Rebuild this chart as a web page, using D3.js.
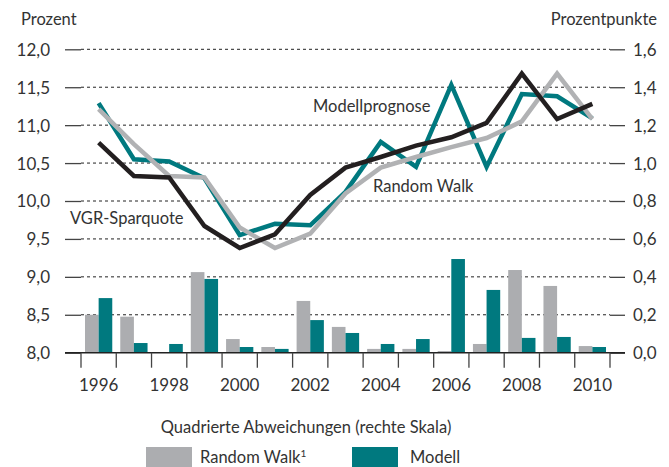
<!DOCTYPE html>
<html>
<head>
<meta charset="utf-8">
<script src="https://cdn.jsdelivr.net/npm/d3@7"></script>
<style>
  body { margin: 0; background: #fff; }
  svg text { font-family: Lato, "Open Sans", sans-serif; fill: #333; }
</style>
</head>
<body>
<div class="content-container"></div>
<script>
// data
const years = [1996, 1997, 1998, 1999, 2000, 2001, 2002, 2003, 2004, 2005, 2006, 2007, 2008, 2009, 2010];
const sparquote = [10.77, 10.33, 10.31, 9.67, 9.38, 9.56, 10.08, 10.44, 10.58, 10.73, 10.84, 11.03, 11.68, 11.08, 11.28];
const modellprognose = [11.29, 10.55, 10.52, 10.30, 9.55, 9.70, 9.68, 10.12, 10.78, 10.45, 11.53, 10.45, 11.41, 11.38, 11.09];
const randomWalk = [11.21, 10.75, 10.33, 10.31, 9.65, 9.38, 9.57, 10.10, 10.44, 10.58, 10.71, 10.83, 11.05, 11.68, 11.08];
const sqRandomWalk = [0.20, 0.19, 0.003, 0.425, 0.072, 0.030, 0.273, 0.136, 0.020, 0.020, 0.009, 0.046, 0.436, 0.352, 0.035];
const sqModell = [0.288, 0.051, 0.046, 0.389, 0.030, 0.020, 0.172, 0.104, 0.046, 0.072, 0.494, 0.331, 0.078, 0.083, 0.030];
const leftTicks = [8.0, 8.5, 9.0, 9.5, 10.0, 10.5, 11.0, 11.5, 12.0];
const rightTicks = [0.0, 0.2, 0.4, 0.6, 0.8, 1.0, 1.2, 1.4, 1.6];
const yearLabels = [1996, 1998, 2000, 2002, 2004, 2006, 2008, 2010];

const width = 669;
const height = 467;
const plotLeft = 81, plotRight = 610, plotTop = 49.3, plotBottom = 352.7;
const teal = "#00797f";
const grey = "#acadb0";
const black = "#231f20";
const comma = (d) => d.toFixed(1).replace(".", ",");

//SCALES
const xScale = d3.scaleBand().domain(years).range([plotLeft, plotRight]);
const bw = xScale.bandwidth();
const xInner = d3.scaleBand().domain(["rw", "modell"]).range([4, bw - 4]);
const yLeft = d3.scaleLinear().domain([8, 12]).range([plotBottom, plotTop]);
const yRight = d3.scaleLinear().domain([0, 1.6]).range([plotBottom, plotTop]);

const chart = d3.select(".content-container")
  .append("svg")
  .attr("width", width)
  .attr("height", height);

//GRID (dashed, except the base line)
chart.selectAll("line.grid")
  .data(leftTicks.slice(1))
  .enter()
  .append("line")
  .attr("class", "grid")
  .attr("x1", plotLeft).attr("x2", plotRight)
  .attr("y1", (d) => yLeft(d)).attr("y2", (d) => yLeft(d))
  .attr("stroke", "#222")
  .attr("stroke-width", 1)
  .attr("stroke-dasharray", "3,3");

//AXES
const yAxisLeft = d3.axisLeft(yLeft).tickValues(leftTicks).tickFormat(comma).tickSize(16).tickPadding(15);
const gl = chart.append("g").attr("transform", "translate(" + plotLeft + ",0)").call(yAxisLeft);

const yAxisRight = d3.axisRight(yRight).tickValues(rightTicks).tickFormat(comma).tickSize(15).tickPadding(8);
const gr = chart.append("g").attr("transform", "translate(" + plotRight + ",0)").call(yAxisRight);

[gl, gr].forEach(function (g) {
  g.select(".domain").remove();
  g.selectAll(".tick line").attr("stroke", "#444").attr("stroke-width", 1.3);
  g.selectAll(".tick text").style("font-size", "17px").attr("fill", "#333").attr("dy", "0.35em");
});

//BARS
const bars = chart.append("g");
bars.selectAll("rect.rw")
  .data(years)
  .enter()
  .append("rect")
  .attr("x", (d) => xScale(d) + xInner("rw"))
  .attr("width", xInner.bandwidth())
  .attr("y", (d, i) => yRight(sqRandomWalk[i]))
  .attr("height", (d, i) => plotBottom - yRight(sqRandomWalk[i]))
  .attr("fill", grey);
bars.selectAll("rect.modell")
  .data(years)
  .enter()
  .append("rect")
  .attr("x", (d) => xScale(d) + xInner("modell"))
  .attr("width", xInner.bandwidth())
  .attr("y", (d, i) => yRight(sqModell[i]))
  .attr("height", (d, i) => plotBottom - yRight(sqModell[i]))
  .attr("fill", teal);

//BASE LINE + BOTTOM TICKS
chart.append("line")
  .attr("x1", 65).attr("x2", 625)
  .attr("y1", plotBottom).attr("y2", plotBottom)
  .attr("stroke", "#222").attr("stroke-width", 1.5);

const edges = years.map((d) => xScale(d)).concat([plotRight]);
chart.selectAll("line.xtick")
  .data(edges)
  .enter()
  .append("line")
  .attr("x1", (d) => d).attr("x2", (d) => d)
  .attr("y1", plotBottom).attr("y2", plotBottom + 15)
  .attr("stroke", "#444").attr("stroke-width", 1.3);

const xAxis = d3.axisBottom(xScale).tickValues(yearLabels).tickSize(0).tickPadding(26);
const gx = chart.append("g").attr("transform", "translate(0," + plotBottom + ")").call(xAxis);
gx.select(".domain").remove();
gx.selectAll(".tick text").style("font-size", "17px").attr("fill", "#333");

//LINES
const line = (values) => d3.line()
  .x((d, i) => xScale(years[i]) + bw / 2)
  .y((d) => yLeft(d))(values);

[[modellprognose, teal], [randomWalk, "#b1b2b4"], [sparquote, black]].forEach(function (s) {
  chart.append("path")
    .attr("d", line(s[0]))
    .attr("fill", "none")
    .attr("stroke", s[1])
    .attr("stroke-width", 4.5)
    .attr("stroke-linejoin", "miter");
});

//LABELS
const label = (x, y, t, anchor) => chart.append("text")
  .attr("x", x).attr("y", y)
  .attr("text-anchor", anchor || "start")
  .style("font-size", "16.5px")
  .text(t);

label(21, 25, "Prozent");
label(657, 25, "Prozentpunkte", "end");
label(313, 112, "Modellprognose");
label(373, 192, "Random Walk");
label(70, 224, "VGR-Sparquote");
label(306, 433, "Quadrierte Abweichungen (rechte Skala)", "middle");

//LEGEND
chart.append("rect").attr("x", 146).attr("y", 447).attr("width", 46).attr("height", 21).attr("fill", grey);
const rw = label(200, 462.5, "Random Walk");
rw.append("tspan").attr("dy", -6).style("font-size", "10px").text("1");
chart.append("rect").attr("x", 352).attr("y", 447).attr("width", 46).attr("height", 21).attr("fill", teal);
label(410, 462.5, "Modell");
</script>
</body>
</html>
